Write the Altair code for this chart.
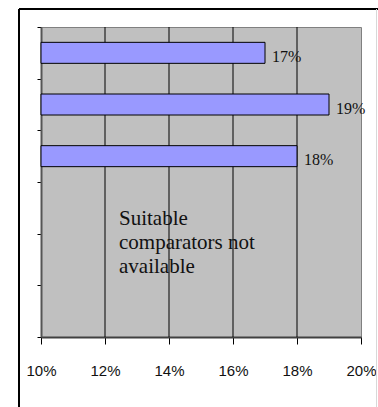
import altair as alt
import pandas as pd

# ---- data ----
categories = ["Row 1", "Row 2", "Row 3", "Row 4", "Row 5", "Row 6"]
bar_categories = ["Row 1", "Row 2", "Row 3"]
bar_values = [17, 19, 18]
x_ticks = [10, 12, 14, 16, 18, 20]
grid_values = [12, 14, 16, 18]
note_lines = ["Suitable", "comparators not", "available"]

bars_df = pd.DataFrame({"cat": bar_categories, "value": bar_values})
bars_df["label"] = [f"{v}%" for v in bar_values]
grid_df = pd.DataFrame({"g": grid_values})

W, H = 320, 310
SERIF = "Liberation Serif, Times New Roman, serif"

x_scale = alt.Scale(domain=[10, 20], zero=False, nice=False)
y_scale = alt.Scale(domain=categories, paddingInner=0, paddingOuter=0)

x_axis = alt.Axis(
    values=x_ticks,
    labelExpr="datum.value + '%'",
    title=None,
    grid=False,
    tickSize=7,
    tickColor="#000000",
    domainColor="#404040",
    domainWidth=2,
    labelFlush=False,
    labelFont="Liberation Sans Narrow, Arial Narrow, Liberation Sans, sans-serif",
    labelFontSize=15,
    labelColor="#111111",
    labelPadding=19,
)
y_axis = alt.Axis(
    labels=False,
    title=None,
    grid=False,
    tickBand="extent",
    tickSize=4,
    tickColor="#000000",
    domainColor="#555555",
    domainWidth=2,
)

grid = alt.Chart(grid_df).mark_rule(color="#000000", strokeWidth=1).encode(
    x=alt.X("g:Q", scale=x_scale, axis=x_axis)
)

bars = alt.Chart(bars_df).mark_bar(
    fill="#9999FF", stroke="#000000", strokeWidth=1, size=21
).encode(
    y=alt.Y("cat:N", scale=y_scale, axis=y_axis, sort=categories),
    x=alt.X("value:Q", scale=x_scale, axis=x_axis),
    x2=alt.datum(10),
)

labels = alt.Chart(bars_df).mark_text(
    align="left", baseline="alphabetic", dx=7, dy=9,
    font=SERIF, fontSize=16, color="#111111"
).encode(
    y=alt.Y("cat:N", scale=y_scale, axis=y_axis, sort=categories),
    x=alt.X("value:Q", scale=x_scale, axis=x_axis),
    text="label:N",
)

note = alt.Chart(pd.DataFrame({"t": [note_lines]})).mark_text(
    align="left", baseline="alphabetic", font=SERIF,
    fontSize=21, lineHeight=24, color="#111111"
).encode(
    x=alt.value(78), y=alt.value(198), text="t"
)

frame_top = alt.Chart(pd.DataFrame({"a": [0]})).mark_rule(
    color="#000000", strokeWidth=2
).encode(x=alt.value(-22), x2=alt.value(340), y=alt.value(-18))
frame_left = alt.Chart(pd.DataFrame({"a": [0]})).mark_rule(
    color="#000000", strokeWidth=2
).encode(x=alt.value(-22), y=alt.value(-18), y2=alt.value(400))
frame_right = alt.Chart(pd.DataFrame({"a": [0]})).mark_rule(
    color="#d8d8d8", strokeWidth=1
).encode(x=alt.value(335.5), y=alt.value(-18), y2=alt.value(400))

chart = alt.layer(
    grid, bars, labels, note, frame_top, frame_left, frame_right
).properties(
    width=W, height=H,
    autosize=alt.AutoSizeParams(type="none"),
    padding={"left": 41, "top": 27, "right": 17, "bottom": 70},
    background="#ffffff",
).configure_view(
    fill="#C0C0C0", stroke="#808080", strokeWidth=1
)

chart.save("out.html", embed_options={"renderer": "svg", "actions": False})
